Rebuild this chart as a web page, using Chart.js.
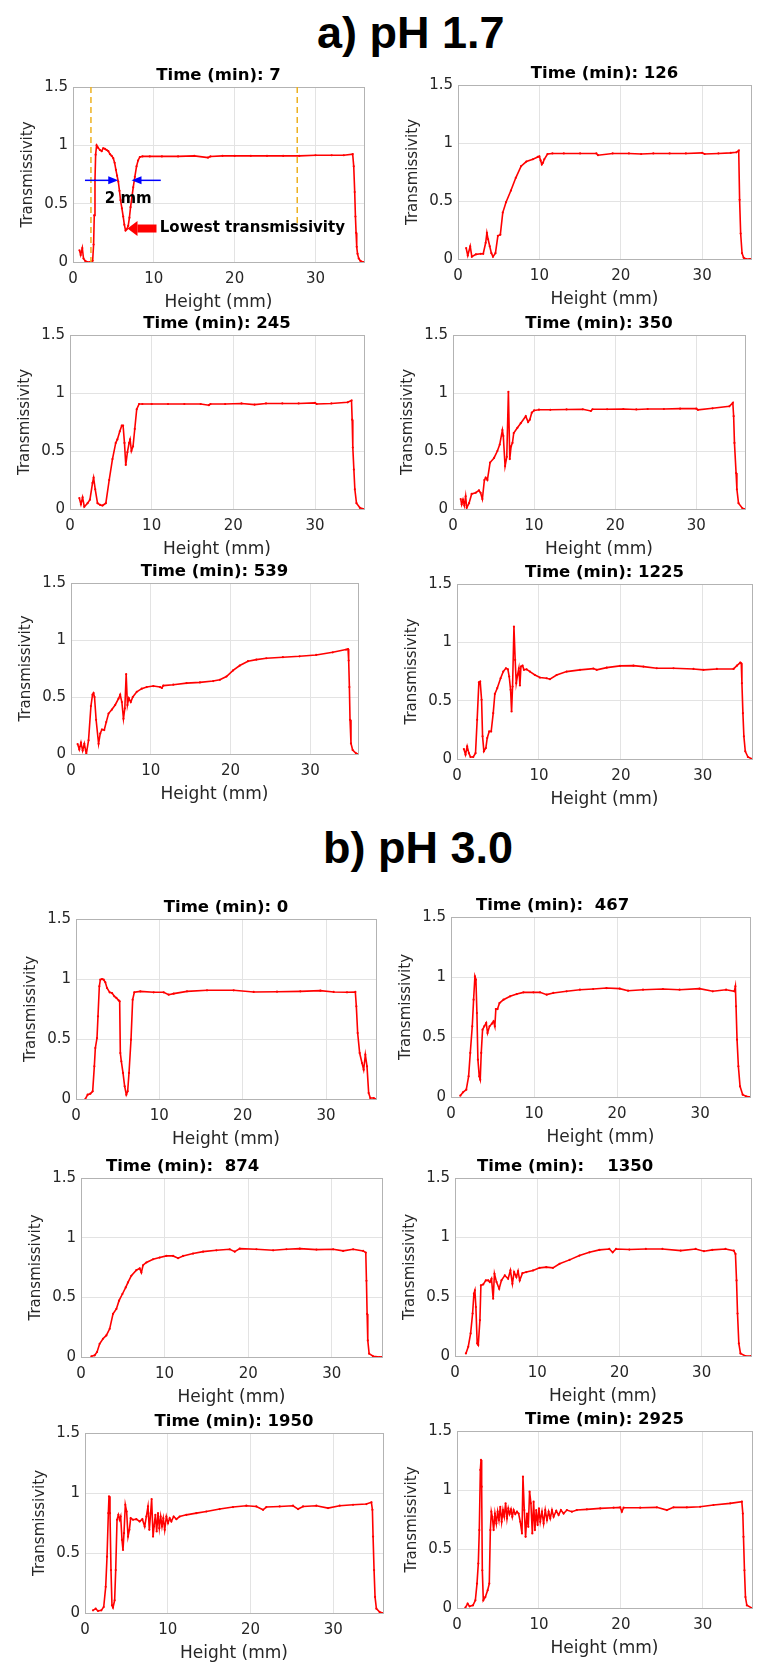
<!DOCTYPE html>
<html>
<head>
<meta charset="utf-8">
<script src="https://cdn.jsdelivr.net/npm/chart.js@4.4.1/dist/chart.umd.min.js"></script>
<style>
  body { margin: 0; background: #fff; width: 778px; height: 1677px; position: relative; overflow: hidden; }
  .heading { position: absolute; font-family: "Liberation Sans", Arial, sans-serif; font-weight: bold;
             font-size: 45px; line-height: 45px; color: #000; white-space: nowrap; }
  canvas { position: absolute; }
</style>
</head>
<body>
<div class="heading" style="left:317px;top:10px">a) pH 1.7</div>
<div class="heading" style="left:323px;top:825px">b) pH 3.0</div>

<script>
// axis ticks shared by all panels
const xTicks = [0, 10, 20, 30];
const yTicks = [0, 0.5, 1, 1.5];
const yTickLabels = ['0', '0.5', '1', '1.5'];

// ---- a) pH 1.7 ----
const h7 = [0.8, 0.95, 1.15, 1.3, 1.5, 1.8, 2.1, 2.43, 2.55, 2.63, 2.72, 2.8, 2.92, 3.1, 3.33, 3.55, 3.74, 3.95, 4.16, 4.37, 4.57, 4.78, 4.98, 5.15, 5.31, 5.45, 5.6, 5.75, 5.88, 6.05, 6.21, 6.35, 6.5, 6.65, 6.83, 6.98, 7.12, 7.3, 7.45, 7.65, 7.86, 8.05, 8.27, 8.6, 9.5, 11, 13, 15, 16.7, 17, 18.5, 20, 22, 24, 26, 28, 30, 32, 33.5, 34.6, 34.73, 34.85, 34.94, 35.02, 35.1, 35.2, 35.35, 35.55, 35.84, 36];
const t7 = [0.10, 0.06, 0.12, 0.03, 0.01, 0.0, 0.0, 0.01, 0.15, 0.40, 0.70, 0.92, 1.00, 0.98, 0.96, 0.95, 0.975, 0.97, 0.96, 0.95, 0.925, 0.91, 0.89, 0.85, 0.79, 0.74, 0.69, 0.61, 0.53, 0.46, 0.39, 0.32, 0.27, 0.28, 0.31, 0.38, 0.47, 0.56, 0.64, 0.73, 0.82, 0.87, 0.90, 0.905, 0.905, 0.905, 0.905, 0.91, 0.895, 0.905, 0.91, 0.91, 0.91, 0.91, 0.91, 0.91, 0.915, 0.915, 0.915, 0.925, 0.82, 0.6, 0.39, 0.25, 0.13, 0.07, 0.03, 0.01, 0.0, 0.0];

const h126 = [1.0, 1.2, 1.5, 1.7, 2.2, 2.8, 3.1, 3.4, 3.55, 3.7, 3.9, 4.1, 4.3, 4.6, 4.9, 5.2, 5.5, 5.9, 6.5, 7.1, 7.75, 8.4, 9.2, 9.8, 10.0, 10.15, 10.3, 10.45, 10.6, 11.0, 11.6, 13, 15, 17, 17.2, 19, 21, 22.5, 24, 26, 28, 30, 30.3, 32, 33.5, 34.2, 34.49, 34.6, 34.73, 34.9, 35.1, 35.4, 35.8, 36];
const t126 = [0.095, 0.03, 0.11, 0.02, 0.04, 0.045, 0.045, 0.14, 0.225, 0.17, 0.11, 0.05, 0.02, 0.05, 0.2, 0.21, 0.4, 0.49, 0.59, 0.70, 0.80, 0.84, 0.86, 0.88, 0.885, 0.85, 0.815, 0.83, 0.86, 0.905, 0.91, 0.91, 0.91, 0.91, 0.895, 0.91, 0.91, 0.905, 0.91, 0.91, 0.91, 0.915, 0.905, 0.91, 0.915, 0.92, 0.935, 0.51, 0.22, 0.05, 0.01, 0.0, 0.0, 0.0];

const h245 = [1.14, 1.34, 1.54, 1.75, 2.15, 2.44, 2.76, 2.89, 3.09, 3.37, 3.7, 3.98, 4.39, 4.8, 5.2, 5.6, 5.8, 6.1, 6.34, 6.5, 6.67, 6.83, 7.03, 7.24, 7.36, 7.52, 7.72, 7.93, 8.17, 8.46, 8.86, 10, 12, 14, 16, 17, 17.2, 19, 21, 22.6, 24, 26, 28, 30, 30.2, 32, 34.0, 34.47, 34.55, 34.63, 34.76, 34.88, 35.08, 35.5, 36];
const t245 = [0.095, 0.04, 0.10, 0.02, 0.05, 0.08, 0.225, 0.27, 0.17, 0.05, 0.035, 0.03, 0.05, 0.25, 0.43, 0.57, 0.60, 0.67, 0.72, 0.72, 0.57, 0.38, 0.49, 0.57, 0.60, 0.50, 0.54, 0.69, 0.86, 0.905, 0.905, 0.905, 0.905, 0.905, 0.905, 0.895, 0.905, 0.905, 0.91, 0.90, 0.91, 0.91, 0.91, 0.915, 0.905, 0.91, 0.92, 0.935, 0.77, 0.53, 0.34, 0.17, 0.05, 0.01, 0.0];

const h350 = [0.95, 1.07, 1.23, 1.4, 1.56, 1.69, 1.98, 2.3, 2.8, 3.2, 3.4, 3.62, 3.87, 4.03, 4.24, 4.57, 5.06, 5.47, 5.76, 6.09, 6.2, 6.42, 6.63, 6.83, 7.0, 7.16, 7.33, 7.49, 7.94, 8.35, 8.97, 9.26, 9.47, 9.71, 10.0, 10.6, 12, 14, 16, 17, 17.2, 19, 21, 22.6, 24, 26, 28, 30, 30.2, 32, 34.07, 34.5, 34.6, 34.7, 34.9, 35.0, 35.2, 35.7, 36];
const t350 = [0.086, 0.04, 0.08, 0.03, 0.11, 0.01, 0.05, 0.13, 0.14, 0.16, 0.14, 0.086, 0.25, 0.27, 0.25, 0.40, 0.44, 0.50, 0.555, 0.68, 0.63, 0.37, 0.45, 1.01, 0.43, 0.54, 0.57, 0.655, 0.70, 0.74, 0.80, 0.75, 0.77, 0.83, 0.85, 0.856, 0.855, 0.858, 0.86, 0.845, 0.86, 0.86, 0.862, 0.858, 0.862, 0.862, 0.865, 0.865, 0.855, 0.868, 0.885, 0.915, 0.80, 0.57, 0.31, 0.17, 0.05, 0.005, 0.0];

const h539 = [0.83, 1.04, 1.25, 1.46, 1.67, 1.92, 2.2, 2.5, 2.7, 2.83, 2.95, 3.15, 3.46, 3.67, 3.88, 4.17, 4.42, 4.71, 5.13, 5.54, 5.96, 6.17, 6.38, 6.58, 6.75, 6.92, 7.08, 7.25, 7.5, 7.75, 8.25, 8.87, 9.5, 10.33, 11.17, 11.4, 11.58, 12.83, 14.5, 16.17, 17.83, 18.67, 19.5, 20.33, 21.17, 22.2, 23.25, 24.5, 26.58, 28.67, 30.75, 32.83, 34.5, 34.75, 34.83, 34.92, 35.0, 35.12, 35.33, 35.75, 36];
const t539 = [0.087, 0.04, 0.10, 0.03, 0.09, 0.0, 0.12, 0.42, 0.52, 0.535, 0.50, 0.3, 0.09, 0.18, 0.215, 0.21, 0.28, 0.355, 0.39, 0.43, 0.485, 0.52, 0.456, 0.31, 0.40, 0.70, 0.43, 0.49, 0.456, 0.50, 0.545, 0.573, 0.587, 0.596, 0.587, 0.58, 0.60, 0.608, 0.622, 0.628, 0.64, 0.651, 0.68, 0.733, 0.776, 0.814, 0.828, 0.84, 0.849, 0.857, 0.869, 0.892, 0.916, 0.92, 0.82, 0.587, 0.30, 0.093, 0.035, 0.006, 0.0];

const h1225 = [0.84, 1.04, 1.24, 1.45, 1.65, 1.98, 2.26, 2.46, 2.67, 2.83, 3.0, 3.12, 3.28, 3.52, 3.69, 3.93, 4.17, 4.42, 4.62, 4.91, 5.32, 5.64, 5.97, 6.21, 6.37, 6.54, 6.66, 6.78, 6.95, 7.1, 7.23, 7.39, 7.55, 7.68, 7.8, 8.0, 8.17, 8.49, 8.9, 9.51, 10.12, 10.94, 11.34, 12.16, 13.38, 15.01, 16.64, 17.05, 18.27, 19.9, 21.53, 22.75, 24.38, 26.42, 28.86, 30.08, 31.71, 33.75, 34.16, 34.57, 34.69, 34.77, 34.89, 35.01, 35.18, 35.5, 36];
const t1225 = [0.085, 0.037, 0.108, 0.05, 0.017, 0.017, 0.05, 0.336, 0.658, 0.664, 0.507, 0.194, 0.066, 0.094, 0.18, 0.236, 0.236, 0.393, 0.558, 0.607, 0.692, 0.749, 0.778, 0.769, 0.707, 0.593, 0.407, 0.621, 1.134, 0.849, 0.65, 0.72, 0.778, 0.63, 0.792, 0.80, 0.764, 0.769, 0.749, 0.72, 0.698, 0.692, 0.684, 0.72, 0.749, 0.764, 0.775, 0.764, 0.783, 0.798, 0.80, 0.792, 0.778, 0.778, 0.772, 0.764, 0.772, 0.772, 0.80, 0.826, 0.82, 0.65, 0.393, 0.194, 0.066, 0.017, 0.0];

// ---- b) pH 3.0 ----
const h0 = [1.12, 1.4, 1.72, 2.0, 2.2, 2.32, 2.52, 2.64, 2.8, 2.92, 3.12, 3.32, 3.52, 3.72, 4.04, 4.32, 4.6, 4.84, 5.12, 5.24, 5.32, 5.44, 5.64, 5.84, 6.04, 6.2, 6.36, 6.6, 6.8, 7.0, 7.72, 9.32, 10.52, 11.12, 11.72, 13.32, 15.72, 18.92, 21.32, 24.12, 26.92, 29.32, 30.92, 32.52, 33.52, 33.64, 33.8, 34.04, 34.32, 34.52, 34.72, 34.92, 35.12, 35.32, 35.72, 36];
const t0 = [0.0, 0.036, 0.044, 0.064, 0.272, 0.425, 0.508, 0.689, 0.939, 0.994, 1.0, 0.994, 0.972, 0.925, 0.889, 0.883, 0.856, 0.842, 0.822, 0.814, 0.383, 0.314, 0.217, 0.106, 0.036, 0.064, 0.217, 0.494, 0.828, 0.889, 0.897, 0.889, 0.889, 0.869, 0.878, 0.897, 0.906, 0.906, 0.892, 0.894, 0.897, 0.903, 0.892, 0.889, 0.892, 0.772, 0.55, 0.383, 0.30, 0.244, 0.369, 0.272, 0.05, 0.008, 0.008, 0.0];

const h467 = [1.12, 1.44, 1.84, 2.12, 2.32, 2.56, 2.72, 2.88, 3.0, 3.12, 3.24, 3.4, 3.52, 3.64, 3.8, 4.0, 4.24, 4.4, 4.64, 4.92, 5.12, 5.28, 5.4, 5.6, 5.84, 6.32, 7.12, 7.92, 8.72, 9.92, 10.72, 11.52, 12.32, 13.92, 15.52, 17.12, 18.72, 20.32, 21.32, 23.12, 25.52, 27.52, 29.92, 31.52, 33.12, 34.12, 34.24, 34.32, 34.44, 34.6, 34.8, 35.12, 35.52, 36];
const t467 = [0.011, 0.039, 0.061, 0.172, 0.367, 0.589, 0.811, 1.006, 0.978, 0.70, 0.311, 0.172, 0.144, 0.367, 0.561, 0.589, 0.617, 0.533, 0.589, 0.611, 0.631, 0.589, 0.733, 0.733, 0.783, 0.811, 0.839, 0.858, 0.872, 0.872, 0.872, 0.853, 0.867, 0.881, 0.894, 0.90, 0.908, 0.903, 0.886, 0.894, 0.90, 0.894, 0.903, 0.881, 0.894, 0.881, 0.922, 0.756, 0.478, 0.256, 0.089, 0.019, 0.006, 0.0];

const h874 = [1.24, 1.64, 1.92, 2.23, 2.63, 3.03, 3.43, 3.83, 4.23, 4.55, 4.95, 5.35, 5.62, 6.02, 6.62, 7.02, 7.22, 7.42, 7.82, 8.62, 9.41, 10.21, 11.01, 11.61, 12.21, 13.4, 14.6, 16.19, 17.79, 18.39, 18.99, 20.98, 22.98, 24.57, 26.17, 28.16, 30.16, 31.35, 32.55, 33.75, 34.06, 34.14, 34.22, 34.3, 34.46, 34.94, 35.74, 36];
const t874 = [0.006, 0.014, 0.042, 0.111, 0.153, 0.181, 0.236, 0.361, 0.403, 0.472, 0.528, 0.583, 0.625, 0.681, 0.728, 0.742, 0.708, 0.769, 0.792, 0.819, 0.833, 0.847, 0.847, 0.828, 0.847, 0.867, 0.883, 0.894, 0.903, 0.883, 0.908, 0.903, 0.894, 0.903, 0.908, 0.90, 0.903, 0.889, 0.903, 0.889, 0.875, 0.639, 0.361, 0.139, 0.028, 0.006, 0.0, 0.0];

const h1350 = [1.33, 1.61, 1.9, 2.14, 2.3, 2.42, 2.54, 2.7, 2.83, 3.03, 3.15, 3.43, 3.75, 4.04, 4.24, 4.44, 4.64, 4.8, 5.05, 5.37, 5.65, 6.06, 6.46, 6.74, 6.98, 7.19, 7.47, 7.67, 7.87, 8.2, 8.68, 9.49, 10.29, 11.1, 11.91, 12.72, 13.93, 15.14, 16.35, 17.56, 18.77, 19.18, 19.58, 21.2, 23.21, 25.23, 27.45, 29.27, 30.28, 31.29, 32.9, 33.91, 34.11, 34.24, 34.36, 34.52, 34.72, 35.32, 36];
const t1350 = [0.022, 0.078, 0.19, 0.358, 0.525, 0.553, 0.413, 0.106, 0.092, 0.302, 0.595, 0.603, 0.637, 0.637, 0.623, 0.651, 0.483, 0.693, 0.623, 0.567, 0.637, 0.679, 0.651, 0.721, 0.609, 0.707, 0.665, 0.715, 0.637, 0.698, 0.707, 0.721, 0.743, 0.749, 0.743, 0.777, 0.81, 0.846, 0.874, 0.894, 0.902, 0.874, 0.902, 0.897, 0.902, 0.902, 0.888, 0.902, 0.883, 0.894, 0.902, 0.888, 0.86, 0.637, 0.358, 0.106, 0.022, 0.0, 0.0];

const h1950 = [0.97, 1.29, 1.57, 1.97, 2.26, 2.5, 2.66, 2.82, 2.9, 3.02, 3.14, 3.26, 3.38, 3.58, 3.71, 3.87, 4.03, 4.19, 4.31, 4.47, 4.59, 4.71, 4.87, 5.03, 5.2, 5.36, 5.52, 5.8, 6.2, 6.6, 6.93, 7.21, 7.41, 7.61, 7.77, 7.93, 8.05, 8.22, 8.34, 8.5, 8.66, 8.82, 8.98, 9.14, 9.3, 9.46, 9.63, 9.83, 10.03, 10.23, 10.43, 10.71, 11.04, 11.44, 12.24, 13.45, 14.66, 16.27, 17.88, 19.49, 20.7, 21.51, 21.91, 23.52, 25.13, 25.74, 26.34, 27.95, 29.36, 30.77, 32.38, 33.99, 34.6, 34.72, 34.8, 34.92, 35.04, 35.2, 35.6, 36];
const t1950 = [0.022, 0.036, 0.017, 0.022, 0.05, 0.218, 0.469, 0.832, 0.972, 0.832, 0.358, 0.064, 0.045, 0.106, 0.358, 0.777, 0.818, 0.777, 0.804, 0.609, 0.525, 0.665, 0.902, 0.846, 0.637, 0.693, 0.79, 0.777, 0.782, 0.763, 0.782, 0.721, 0.804, 0.888, 0.693, 0.832, 0.95, 0.637, 0.721, 0.818, 0.679, 0.832, 0.707, 0.804, 0.721, 0.79, 0.693, 0.804, 0.749, 0.79, 0.763, 0.804, 0.782, 0.804, 0.818, 0.832, 0.846, 0.866, 0.883, 0.894, 0.888, 0.86, 0.883, 0.888, 0.894, 0.866, 0.888, 0.894, 0.874, 0.894, 0.902, 0.908, 0.922, 0.86, 0.637, 0.358, 0.134, 0.036, 0.008, 0.0];

const h2925 = [1.02, 1.3, 1.54, 1.95, 2.24, 2.44, 2.6, 2.72, 2.85, 2.93, 3.01, 3.09, 3.21, 3.46, 3.74, 3.94, 4.07, 4.19, 4.31, 4.47, 4.63, 4.8, 4.96, 5.12, 5.28, 5.45, 5.61, 5.77, 5.93, 6.1, 6.26, 6.42, 6.59, 6.75, 6.91, 7.11, 7.32, 7.52, 7.72, 7.93, 8.05, 8.21, 8.37, 8.54, 8.7, 8.86, 9.02, 9.19, 9.35, 9.51, 9.67, 9.84, 10.0, 10.16, 10.37, 10.57, 10.77, 10.98, 11.18, 11.38, 11.59, 11.79, 12.11, 12.4, 12.68, 13.01, 13.41, 14.02, 14.63, 15.85, 17.48, 19.11, 19.92, 20.12, 20.33, 22.36, 24.39, 25.61, 26.42, 28.05, 29.67, 31.3, 33.33, 34.76, 34.88, 34.96, 35.08, 35.2, 35.37, 35.98];
const t2925 = [0.003, 0.037, 0.014, 0.023, 0.065, 0.207, 0.377, 0.66, 1.17, 1.255, 1.028, 0.32, 0.065, 0.093, 0.15, 0.207, 0.66, 0.816, 0.773, 0.66, 0.80, 0.717, 0.816, 0.745, 0.858, 0.731, 0.83, 0.773, 0.887, 0.759, 0.844, 0.796, 0.836, 0.773, 0.83, 0.796, 0.816, 0.80, 0.731, 0.632, 1.113, 0.83, 0.603, 0.80, 0.688, 0.986, 0.887, 0.632, 0.901, 0.66, 0.83, 0.703, 0.844, 0.731, 0.816, 0.717, 0.83, 0.745, 0.816, 0.759, 0.83, 0.773, 0.824, 0.788, 0.83, 0.80, 0.83, 0.816, 0.83, 0.836, 0.844, 0.85, 0.853, 0.816, 0.85, 0.85, 0.853, 0.83, 0.853, 0.853, 0.858, 0.873, 0.887, 0.901, 0.80, 0.603, 0.32, 0.093, 0.023, 0.0];

// annotations of the first panel (data units)
const guideX = [2.22, 27.74];
const guideLow = [0, 0.32];
const gapArrows = [[1.48, 5.6], [10.86, 7.24]];
const gapY = 0.70;
const gapLabel = { x: 6.83, y: 0.536, text: '2 mm' };
const lowArrow = { from: 10.33, to: 6.74, y: 0.287 };
const lowLabel = { x: 10.74, y: 0.29, text: 'Lowest transmissivity' };

// layout: plot box in page pixels [left, top, right, bottom]
const PAD_L = 70, PAD_R = 8, PAD_T = 30, PAD_B = 53;
const panels = [
  { title: 'Time (min): 7',      dx: 0,   h: h7,    t: t7,    box: [73, 87, 364, 262], marks: true },
  { title: 'Time (min): 126',    dx: 0,   h: h126,  t: t126,  box: [458, 85, 751, 259] },
  { title: 'Time (min): 245',    dx: 0,   h: h245,  t: t245,  box: [70, 335, 364, 509] },
  { title: 'Time (min): 350',    dx: 0,   h: h350,  t: t350,  box: [453, 335, 745, 509] },
  { title: 'Time (min): 539',    dx: 0,   h: h539,  t: t539,  box: [71, 583, 358, 754] },
  { title: 'Time (min): 1225',   dx: 0,   h: h1225, t: t1225, box: [457, 584, 752, 759] },
  { title: 'Time (min): 0',      dx: 0,   h: h0,    t: t0,    box: [76, 919, 376, 1099] },
  { title: 'Time (min):  467',   dx: -48, h: h467,  t: t467,  box: [451, 917, 750, 1097] },
  { title: 'Time (min):  874',   dx: -49, h: h874,  t: t874,  box: [81, 1178, 382, 1357] },
  { title: 'Time (min):    1350', dx: -38, h: h1350, t: t1350, box: [455, 1178, 751, 1356] },
  { title: 'Time (min): 1950',   dx: 0,   h: h1950, t: t1950, box: [85, 1433, 383, 1613] },
  { title: 'Time (min): 2925',   dx: 0,   h: h2925, t: t2925, box: [457, 1431, 752, 1608] },
];

const FONT = '"DejaVu Sans", sans-serif';

// box around the plot area + bold title above it
const panelFrame = {
  id: 'panelFrame',
  afterDatasetsDraw(chart, args, opts) {
    const { ctx, chartArea: a } = chart;
    ctx.save();
    ctx.strokeStyle = '#b3b3b3';
    ctx.lineWidth = 1;
    ctx.strokeRect(a.left + 0.5, a.top + 0.5, a.right - a.left, a.bottom - a.top);
    ctx.fillStyle = '#000';
    ctx.font = 'bold 16.5px ' + FONT;
    ctx.textAlign = 'center';
    ctx.textBaseline = 'middle';
    ctx.fillText(opts.text, (a.left + a.right) / 2 + opts.dx, a.top - 11.5);
    ctx.restore();
  }
};

function arrowHead(ctx, tipX, y, dir, len, half) {
  ctx.beginPath();
  ctx.moveTo(tipX, y);
  ctx.lineTo(tipX - dir * len, y - half);
  ctx.lineTo(tipX - dir * len, y + half);
  ctx.closePath();
  ctx.fill();
}

// dashed guides, 2 mm arrows and "lowest" arrow on the first panel
const panelMarks = {
  id: 'panelMarks',
  afterDatasetsDraw(chart) {
    const { ctx } = chart;
    const sx = chart.scales.x, sy = chart.scales.y;
    ctx.save();
    ctx.strokeStyle = '#EDB120';
    ctx.lineWidth = 1.5;
    ctx.setLineDash([6, 4]);
    guideX.forEach((gx, i) => {
      const px = sx.getPixelForValue(gx);
      ctx.beginPath();
      ctx.moveTo(px, sy.getPixelForValue(1.5));
      ctx.lineTo(px, sy.getPixelForValue(guideLow[i]));
      ctx.stroke();
    });
    ctx.setLineDash([]);

    const gy = sy.getPixelForValue(gapY);
    ctx.strokeStyle = '#0000ff';
    ctx.fillStyle = '#0000ff';
    ctx.lineWidth = 1.5;
    gapArrows.forEach(([from, to]) => {
      const x0 = sx.getPixelForValue(from), x1 = sx.getPixelForValue(to);
      const dir = Math.sign(x1 - x0);
      ctx.beginPath();
      ctx.moveTo(x0, gy);
      ctx.lineTo(x1 - dir * 8, gy);
      ctx.stroke();
      arrowHead(ctx, x1, gy, dir, 10, 4);
    });

    ctx.fillStyle = '#000';
    ctx.font = 'bold 15px ' + FONT;
    ctx.textAlign = 'center';
    ctx.textBaseline = 'middle';
    ctx.fillText(gapLabel.text, sx.getPixelForValue(gapLabel.x), sy.getPixelForValue(gapLabel.y));

    const ly = sy.getPixelForValue(lowArrow.y);
    const lx0 = sx.getPixelForValue(lowArrow.from), lx1 = sx.getPixelForValue(lowArrow.to);
    ctx.fillStyle = '#ff0000';
    ctx.fillRect(lx1 + 10, ly - 4, lx0 - lx1 - 10, 8);
    arrowHead(ctx, lx1, ly, -1, 10, 7.5);

    ctx.fillStyle = '#000';
    ctx.textAlign = 'left';
    ctx.fillText(lowLabel.text, sx.getPixelForValue(lowLabel.x), sy.getPixelForValue(lowLabel.y));
    ctx.restore();
  }
};

function makePanel(p) {
  const [L, T, R, B] = p.box;
  const canvas = document.createElement('canvas');
  canvas.width = R - L + PAD_L + PAD_R;
  canvas.height = B - T + PAD_T + PAD_B;
  canvas.style.left = (L - PAD_L) + 'px';
  canvas.style.top = (T - PAD_T) + 'px';
  document.body.appendChild(canvas);

  const tickFont = { family: FONT, size: 15 };
  new Chart(canvas, {
    type: 'line',
    data: {
      datasets: [{
        data: p.h.map((x, i) => ({ x: x, y: p.t[i] })),
        borderColor: '#ff0000',
        backgroundColor: '#ff0000',
        borderWidth: 1.6,
        pointRadius: 1.1,
        pointBorderWidth: 0,
        tension: 0
      }]
    },
    options: {
      responsive: false,
      animation: false,
      devicePixelRatio: 1,
      layout: { padding: { top: PAD_T, right: PAD_R, left: 0, bottom: 0 } },
      plugins: {
        legend: { display: false },
        tooltip: { enabled: false },
        panelFrame: { text: p.title, dx: p.dx }
      },
      scales: {
        x: {
          type: 'linear',
          min: 0,
          max: 36,
          afterBuildTicks: (s) => { s.ticks = xTicks.map((v) => ({ value: v })); },
          afterFit: (s) => { s.height = PAD_B; },
          grid: { color: '#e3e3e3', drawTicks: false },
          border: { display: false },
          ticks: { padding: 8, color: '#262626', font: tickFont, maxRotation: 0, autoSkip: false,
                   callback: (v) => String(v) },
          title: { display: true, text: 'Height (mm)', color: '#262626',
                   font: { family: FONT, size: 17 }, padding: { top: 0, bottom: 2 } }
        },
        y: {
          type: 'linear',
          min: 0,
          max: 1.5,
          afterBuildTicks: (s) => { s.ticks = yTicks.map((v) => ({ value: v })); },
          afterFit: (s) => { s.width = PAD_L; },
          grid: { color: '#e3e3e3', drawTicks: false },
          border: { display: false },
          ticks: { padding: 5, color: '#262626', font: tickFont, autoSkip: false,
                   callback: (v, i) => yTickLabels[i] },
          title: { display: true, text: 'Transmissivity', color: '#262626',
                   font: { family: FONT, size: 15 }, padding: { top: 16, bottom: 0 } }
        }
      }
    },
    plugins: p.marks ? [panelFrame, panelMarks] : [panelFrame]
  });
}

panels.forEach(makePanel);
</script>
</body>
</html>
